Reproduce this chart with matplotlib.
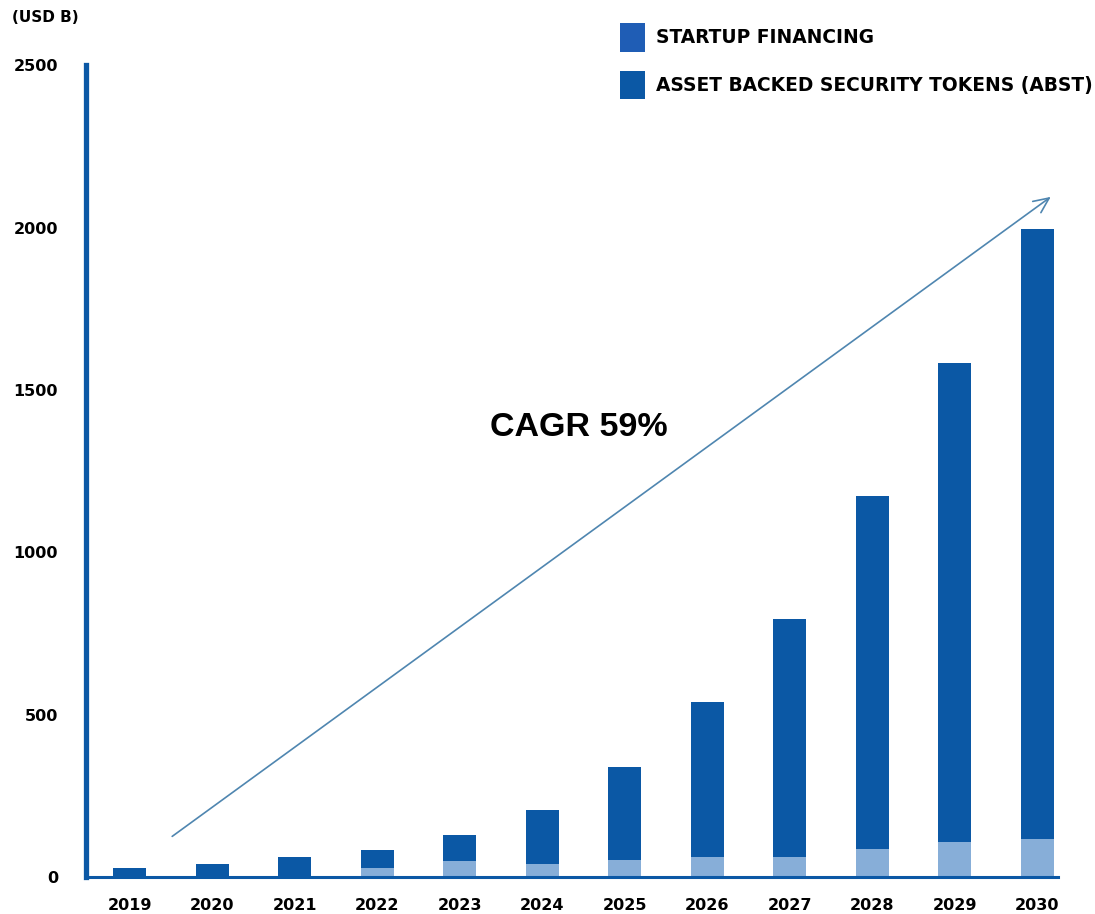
import numpy as np
import matplotlib.pyplot as plt
from matplotlib.patches import Patch

# values (USD B)
years = ["2019", "2020", "2021", "2022", "2023", "2024",
         "2025", "2026", "2027", "2028", "2029", "2030"]
startup_financing = [0, 0, 0, 28, 50, 40, 52, 61, 61, 85, 108, 118]
total_market = [28, 40, 62, 84, 129, 206, 339, 539, 794, 1173, 1582, 1995]
abst = [t - s for t, s in zip(total_market, startup_financing)]
yticks = [0, 500, 1000, 1500, 2000, 2500]

dark = "#0b58a5"
light = "#87aed8"

# wide bold face for labels, narrower one for the CAGR callout
label_font = ['DejaVu Sans']
plt.rcParams['font.family'] = ['Liberation Sans', 'DejaVu Sans']

fig = plt.figure(figsize=(10.95, 9.14), dpi=100)
ax = fig.add_axes([0.0785, 0.0405, 0.8877, 0.888])

x = np.arange(len(years))
ax.bar(x, startup_financing, width=0.4, color=light, zorder=2)
ax.bar(x, abst, width=0.4, bottom=startup_financing, color=dark, zorder=2)

ax.set_xlim(-0.533, 11.25)
ax.set_ylim(0, 2500)

for side in ["top", "right"]:
    ax.spines[side].set_visible(False)
ax.spines["left"].set_color(dark)
ax.spines["left"].set_linewidth(3.8)
ax.spines["bottom"].set_color(dark)
ax.spines["bottom"].set_linewidth(2.2)
ax.spines["left"].set_zorder(3)
ax.spines["bottom"].set_zorder(3)

ax.set_xticks(x)
ax.set_xticklabels(years, fontsize=11.5, fontweight="bold", family=label_font)
ax.set_yticks(yticks)
ax.set_yticklabels([str(v) for v in yticks], fontsize=11.5, fontweight="bold",
                   family=label_font)
ax.tick_params(axis="x", length=0, pad=15)
ax.tick_params(axis="y", length=0, pad=20)

# growth arrow
ax.annotate("", xy=(11.19, 2100), xytext=(0.485, 120),
            arrowprops=dict(arrowstyle="->,head_length=1.1,head_width=0.5",
                            color="#4f86b0", lw=1.2))
ax.text(5.44, 1383, "CAGR 59%", fontsize=24.5, fontweight="bold",
        ha="center", va="center")

fig.text(0.011, 0.981, "(USD B)", fontsize=11, fontweight="bold",
         ha="left", va="center", family=label_font)

handles = [Patch(facecolor="#1f5db5", edgecolor="none", label="STARTUP FINANCING"),
           Patch(facecolor=dark, edgecolor="none", label="ASSET BACKED SECURITY TOKENS (ABST)")]
fig.legend(handles=handles, loc="upper left", bbox_to_anchor=(0.551, 0.993),
           frameon=False, handlelength=1.34, handleheight=2.0, handletextpad=0.6,
           labelspacing=1.0, prop={"weight": "bold", "size": 13.4, "family": label_font})

fig.savefig("out.png", dpi=100)
